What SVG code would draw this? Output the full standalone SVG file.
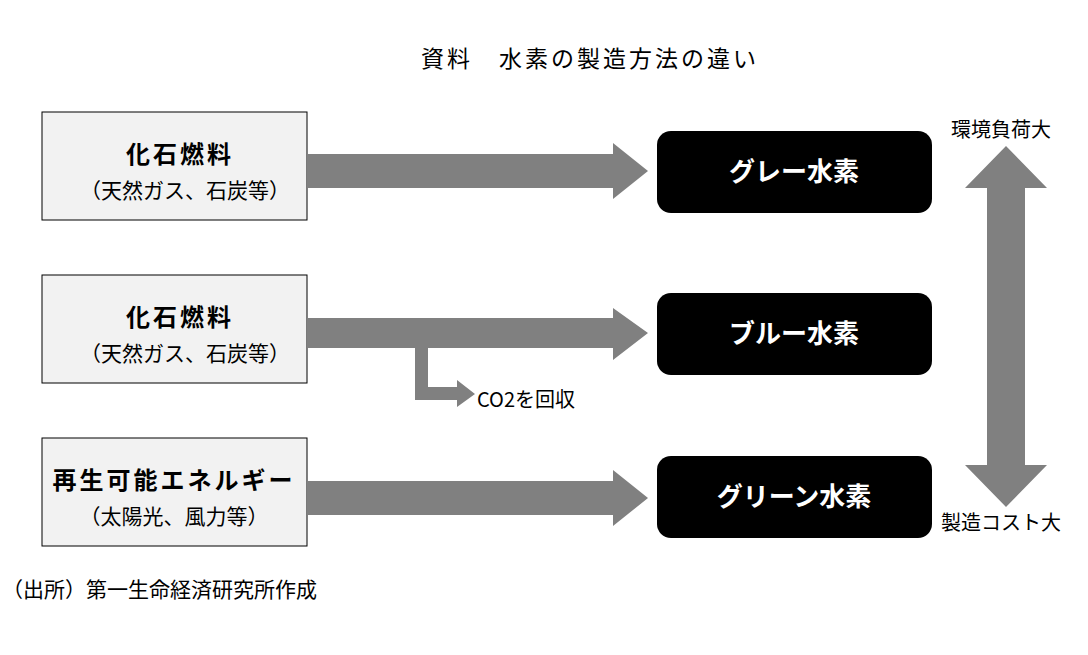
<svg xmlns="http://www.w3.org/2000/svg" width="1088" height="655" viewBox="0 0 1088 655">
<style>
text{font-family:"Noto Sans CJK JP","Noto Sans CJK SC",sans-serif;fill:#000}
.src{fill:#f2f2f2;stroke:#000;stroke-width:1}
.dst{fill:#000}
.w{fill:#fff;font-size:26px;font-weight:bold;text-anchor:middle}
.b{font-size:24px;font-weight:bold;text-anchor:middle;letter-spacing:3px}
.n{font-size:21px;text-anchor:middle}
.arr{fill:#808080}
</style>
<rect width="1088" height="655" fill="#fff"/>
<text x="590" y="67" style="font-size:23px;letter-spacing:3px" text-anchor="middle">資料　水素の製造方法の違い</text>
<g id="src1"><rect class="src" x="42" y="112" width="265" height="108"/><text class="b" x="180" y="163">化石燃料</text><text class="n" x="185" y="198">（天然ガス、石炭等）</text></g>
<g id="src2"><rect class="src" x="42" y="275" width="265" height="108"/><text class="b" x="180" y="326">化石燃料</text><text class="n" x="185" y="361">（天然ガス、石炭等）</text></g>
<g id="src3"><rect class="src" x="42" y="438" width="265" height="108"/><text class="b" x="174" y="489">再生可能エネルギー</text><text class="n" x="174" y="524">（太陽光、風力等）</text></g>
<g id="gray"><rect class="dst" x="657" y="131" width="275" height="82" rx="14"/><text class="w" x="794" y="181">グレー水素</text></g>
<g id="blue"><rect class="dst" x="657" y="293" width="275" height="82" rx="14"/><text class="w" x="794" y="343">ブルー水素</text></g>
<g id="green"><rect class="dst" x="657" y="456" width="275" height="82" rx="14"/><text class="w" x="794" y="506">グリーン水素</text></g>
<g id="connectors">
<polygon class="arr" points="307,154 613,154 613,143 648,171 613,199 613,188 307,188"/>
<polygon class="arr" points="307,318 613,318 613,308 648,333 613,360 613,348 428,348 428,387 457,387 457,380 475,394 457,407 457,400 415,400 415,348 307,348"/>
<polygon class="arr" points="307,481 613,481 613,470 648,498 613,526 613,515 307,515"/>
<polygon class="arr" points="1006,146 1047,188 1025,188 1025,465 1047,465 1006,507 965,465 987,465 987,188 965,188"/>
</g>
<text x="477" y="407" style="font-size:20px">CO2を回収</text>
<text x="1001" y="137" style="font-size:20px" text-anchor="middle">環境負荷大</text>
<text x="1001" y="530" style="font-size:20px" text-anchor="middle">製造コスト大</text>
<text x="2" y="597" style="font-size:21px">（出所）第一生命経済研究所作成</text>
</svg>
